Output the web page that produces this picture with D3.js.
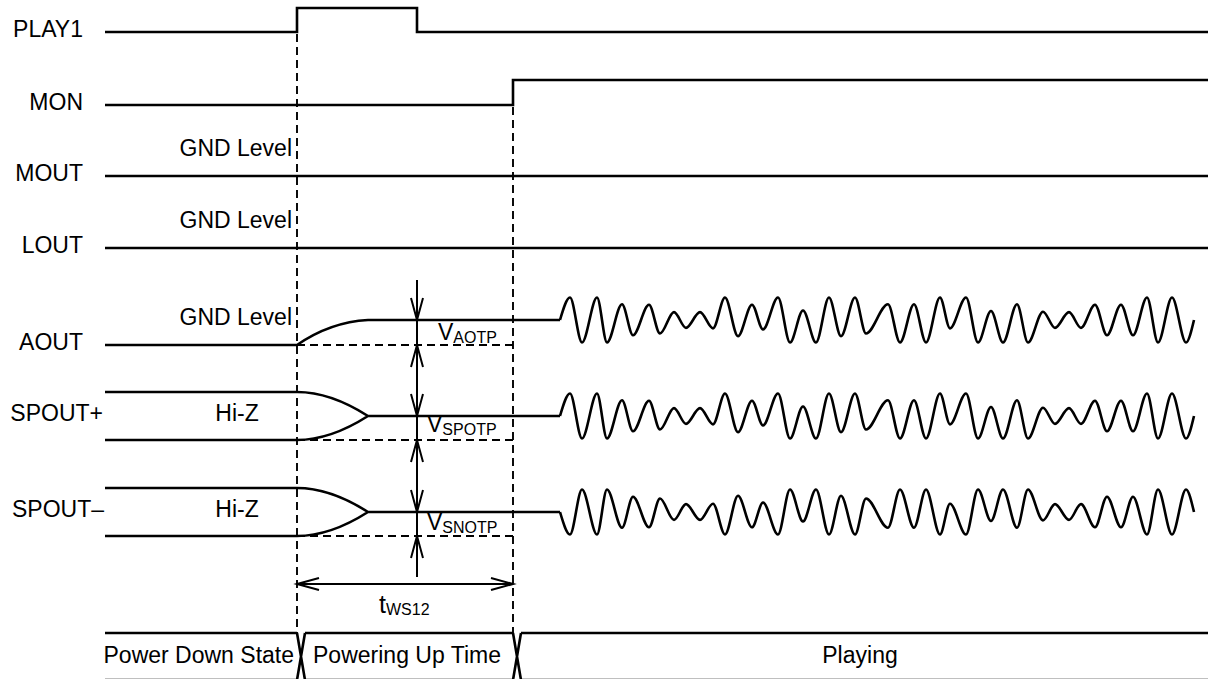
<!DOCTYPE html>
<html>
<head>
<meta charset="utf-8">
<title>Power-up timing</title>
<script src="https://cdn.jsdelivr.net/npm/d3@7"></script>
<style>
    body { margin: 0; background: #fff; }
    svg { display: block; background: #fff; }
    text { font-family: "Liberation Sans", Arial, Helvetica, sans-serif; font-size: 23px; fill: #000; }
    .sig { fill: none; stroke: #000; stroke-width: 2.6px; stroke-linejoin: miter; }
    .dash { fill: none; stroke: #000; stroke-width: 1.9px; stroke-dasharray: 8,5; }
    .dim { fill: none; stroke: #000; stroke-width: 2px; }
    .sub { font-size: 16px; }
    .big { font-size: 25px; }
</style>
</head>
<body>
<svg id="chart" width="1214" height="679"></svg>
<script>
// ---- data (time in reference units from the start of the traces) ----
var signalNames = ['PLAY1', 'MON', 'MOUT', 'LOUT', 'AOUT', 'SPOUT+', 'SPOUT\u2013'];
var play1Edges = [[0, 0], [192, 1], [312, 0], [1103, 0]];
var monEdges = [[0, 0], [408, 1], [1103, 1]];
var gndEdges = [[0, 0], [1103, 0]];
var markerTimes = [192, 408];          // dashed timing lines
var settleTime = 263;                  // AOUT ramp done, Hi-Z outputs merged
var waveStart = 455, waveEnd = 1089;
var waveTimes = [465, 477, 492, 502, 517, 528, 544, 555, 569, 581, 595, 608,
                 620, 633, 647, 658, 673, 685, 698, 711, 724, 736, 750, 761,
                 783, 795, 809, 821, 835, 845, 861, 873, 886, 898, 912, 923,
                 938, 950, 964, 976, 990, 1002, 1016, 1028, 1042, 1053, 1067, 1081];
var waveLevels = [1, -1, 1, -1, 0.7, -0.68, 0.68, -0.6, 0.35, -0.35, 0.35, -0.37,
                  1, -0.72, 0.68, -0.42, 1, -1, 0.42, -1, 1, -0.72, 1, -0.6,
                  0.7, -1, 0.7, -1, 1, -0.37, 1, -1, 0.4, -1, 0.7, -1,
                  0.37, -0.35, 0.35, -0.35, 0.68, -0.68, 0.68, -0.68, 1, -1, 1, -1];
var levelNotes = ['GND Level', 'GND Level', 'GND Level'];
var hiZNotes = ['Hi-Z', 'Hi-Z'];
var offsetLabels = [['V', 'AOTP'], ['V', 'SPOTP'], ['V', 'SNOTP']];
var widthLabel = ['t', 'WS12'];
var states = ['Power Down State', 'Powering Up Time', 'Playing'];
var stateEdges = [0, 192, 408, 1103];

// ---- layout ----
var svg = d3.select('#chart');
var x = d3.scaleLinear().domain([0, 1103]).range([105, 1208]);

var yPlay = d3.scaleLinear().domain([0, 1]).range([32, 8]);
var yMon = d3.scaleLinear().domain([0, 1]).range([105, 80]);
var yMout = d3.scaleLinear().domain([0, 1]).range([176, 152]);
var yLout = d3.scaleLinear().domain([0, 1]).range([248, 224]);
var yAout = d3.scaleLinear().domain([0, 1]).range([345, 320]);
var ySpP = d3.scaleLinear().domain([-1, 0, 1]).range([440, 416, 392]);
var ySpN = d3.scaleLinear().domain([-1, 0, 1]).range([536, 512, 488]);
var amp = 22.5;

var step = function(yS) {
    return d3.line().x(function(d){ return x(d[0]); }).y(function(d){ return yS(d[1]); })
        .curve(d3.curveStepAfter);
};

// row labels
var labelPos = [[83, yPlay(0)], [83, yMon(0)], [83, yMout(0)], [83, yLout(0)],
                [83, yAout(0)], [103, ySpP(0)], [104, ySpN(0)]];
svg.selectAll('.rowLabel')
    .data(signalNames)
    .enter()
    .append('text')
    .attr('class', 'rowLabel')
    .attr('text-anchor', 'end')
    .attr('x', function(d, i){ return labelPos[i][0]; })
    .attr('y', function(d, i){ return labelPos[i][1] + 5; })
    .text(function(d){ return d; });

// digital traces
svg.append('path').attr('class', 'sig').attr('d', step(yPlay)(play1Edges));
svg.append('path').attr('class', 'sig').attr('d', step(yMon)(monEdges));
svg.append('path').attr('class', 'sig').attr('d', step(yMout)(gndEdges));
svg.append('path').attr('class', 'sig').attr('d', step(yLout)(gndEdges));

// GND level notes
var gndY = [yMout(0) - 20, yLout(0) - 20, yAout(0) - 20];
svg.selectAll('.gnd')
    .data(levelNotes)
    .enter()
    .append('text')
    .attr('class', 'gnd')
    .attr('text-anchor', 'end')
    .attr('x', x(markerTimes[0]) - 5)
    .attr('y', function(d, i){ return gndY[i]; })
    .text(function(d){ return d; });

// AOUT: ramp up to bias point, then signal
var ctl = markerTimes[0] + 0.47 * (settleTime - markerTimes[0]);
var p = d3.path();
p.moveTo(x(0), yAout(0));
p.lineTo(x(markerTimes[0]), yAout(0));
p.quadraticCurveTo(x(ctl), yAout(0.92), x(settleTime), yAout(1));
p.lineTo(x(waveStart), yAout(1));
svg.append('path').attr('class', 'sig').attr('d', p.toString());

var wavePts = [[waveStart, 0]].concat(waveTimes.map(function(t, i){ return [t, waveLevels[i]]; }))
    .concat([[waveEnd, 0]]);

function drawWave(mid, sign) {
    var yw = d3.scaleLinear().domain([-1, 1]).range(sign > 0 ? [mid + amp, mid - amp] : [mid - amp, mid + amp]);
    var line = d3.line().x(function(d){ return x(d[0]); }).y(function(d){ return yw(d[1]); })
        .curve(d3.curveMonotoneX);
    svg.append('path').attr('class', 'sig').attr('d', line(wavePts));
}
drawWave(yAout(1), 1);

// SPOUT+/- : Hi-Z then merging to bias
function hiZ(yS, sign) {
    var q = d3.path();
    q.moveTo(x(0), yS(1));
    q.lineTo(x(markerTimes[0]), yS(1));
    q.quadraticCurveTo(x(ctl), yS(1), x(settleTime), yS(0));
    q.lineTo(x(waveStart), yS(0));
    q.moveTo(x(0), yS(-1));
    q.lineTo(x(markerTimes[0]), yS(-1));
    q.quadraticCurveTo(x(ctl), yS(-1), x(settleTime), yS(0));
    svg.append('path').attr('class', 'sig').attr('d', q.toString());
    drawWave(yS(0), sign);
}
hiZ(ySpP, 1);
hiZ(ySpN, -1);

svg.selectAll('.hiz')
    .data(hiZNotes)
    .enter()
    .append('text')
    .attr('class', 'hiz')
    .attr('text-anchor', 'middle')
    .attr('x', 237)
    .attr('y', function(d, i){ return (i ? ySpN(0) : ySpP(0)) + 5; })
    .text(function(d){ return d; });

// dashed reference lines
var dashLow = [yAout(0), ySpP(-1), ySpN(-1)];
svg.selectAll('.hdash')
    .data(dashLow)
    .enter()
    .append('line')
    .attr('class', 'dash')
    .attr('x1', x(markerTimes[0])).attr('x2', x(markerTimes[1]))
    .attr('y1', function(d){ return d; }).attr('y2', function(d){ return d; });

var barTop = 633, barBot = 680;
svg.selectAll('.vdash')
    .data(markerTimes)
    .enter()
    .append('line')
    .attr('class', 'dash')
    .attr('x1', function(d){ return x(d); }).attr('x2', function(d){ return x(d); })
    .attr('y1', function(d, i){ return i ? yMon(0) + 2 : yPlay(0) + 2; })
    .attr('y2', barTop);

// dimension arrows
function head(tx, ty, dx, dy) {
    var L = 22, W = 6;
    var bx = tx - dx * L, by = ty - dy * L;
    var px = -dy * W, py = dx * W;
    var h = d3.path();
    h.moveTo(bx + px, by + py);
    h.quadraticCurveTo(tx - dx * L * 0.4 + px * 0.4, ty - dy * L * 0.4 + py * 0.4, tx, ty);
    h.quadraticCurveTo(tx - dx * L * 0.4 - px * 0.4, ty - dy * L * 0.4 - py * 0.4, bx - px, by - py);
    return h.toString();
}
var vx = x(play1Edges[2][0]);
svg.append('line').attr('class', 'dim')
    .attr('x1', vx).attr('x2', vx).attr('y1', yAout(1) - 40).attr('y2', ySpN(-1) + 41);
var tips = [[yAout(1), 1], [yAout(0), -1], [ySpP(0), 1], [ySpP(-1), -1], [ySpN(0), 1], [ySpN(-1), -1]];
tips.forEach(function(t){
    svg.append('path').attr('class', 'dim').attr('d', head(vx, t[0], 0, t[1]));
});

var hy = ySpN(-1) + 48;
svg.append('line').attr('class', 'dim')
    .attr('x1', x(markerTimes[0])).attr('x2', x(markerTimes[1])).attr('y1', hy).attr('y2', hy);
svg.append('path').attr('class', 'dim').attr('d', head(x(markerTimes[0]), hy, -1, 0));
svg.append('path').attr('class', 'dim').attr('d', head(x(markerTimes[1]), hy, 1, 0));

var tw = svg.append('text').attr('x', 379).attr('y', hy + 29);
tw.append('tspan').attr('class', 'big').text(widthLabel[0]);
tw.append('tspan').attr('class', 'sub').attr('dy', 2).text(widthLabel[1]);

var vPos = [[438, yAout(0) - 5], [427, ySpP(0) + 16], [427, ySpN(0) + 18]];
offsetLabels.forEach(function(l, i){
    var t = svg.append('text').attr('x', vPos[i][0]).attr('y', vPos[i][1]);
    t.append('tspan').text(l[0]);
    t.append('tspan').attr('class', 'sub').attr('dy', 3).text(l[1]);
});

// state bar
var xw = 8;
var bar = d3.path();
for (var i = 0; i < stateEdges.length - 1; i++) {
    var a = x(stateEdges[i]) + (i ? xw : 0), b = x(stateEdges[i + 1]);
    bar.moveTo(a, barTop); bar.lineTo(b, barTop);
    bar.moveTo(a, barBot); bar.lineTo(b, barBot);
    if (i < stateEdges.length - 2) {
        bar.moveTo(b, barTop); bar.lineTo(b + xw, barBot);
        bar.moveTo(b + xw, barTop); bar.lineTo(b, barBot);
    }
}
svg.append('path').attr('class', 'sig').attr('d', bar.toString());

var stateX = [[294, 'end'], [407, 'middle'], [860, 'middle']];
svg.selectAll('.state')
    .data(states)
    .enter()
    .append('text')
    .attr('class', 'state')
    .attr('x', function(d, i){ return stateX[i][0]; })
    .attr('y', 663)
    .attr('text-anchor', function(d, i){ return stateX[i][1]; })
    .text(function(d){ return d; });
</script>
</body>
</html>
